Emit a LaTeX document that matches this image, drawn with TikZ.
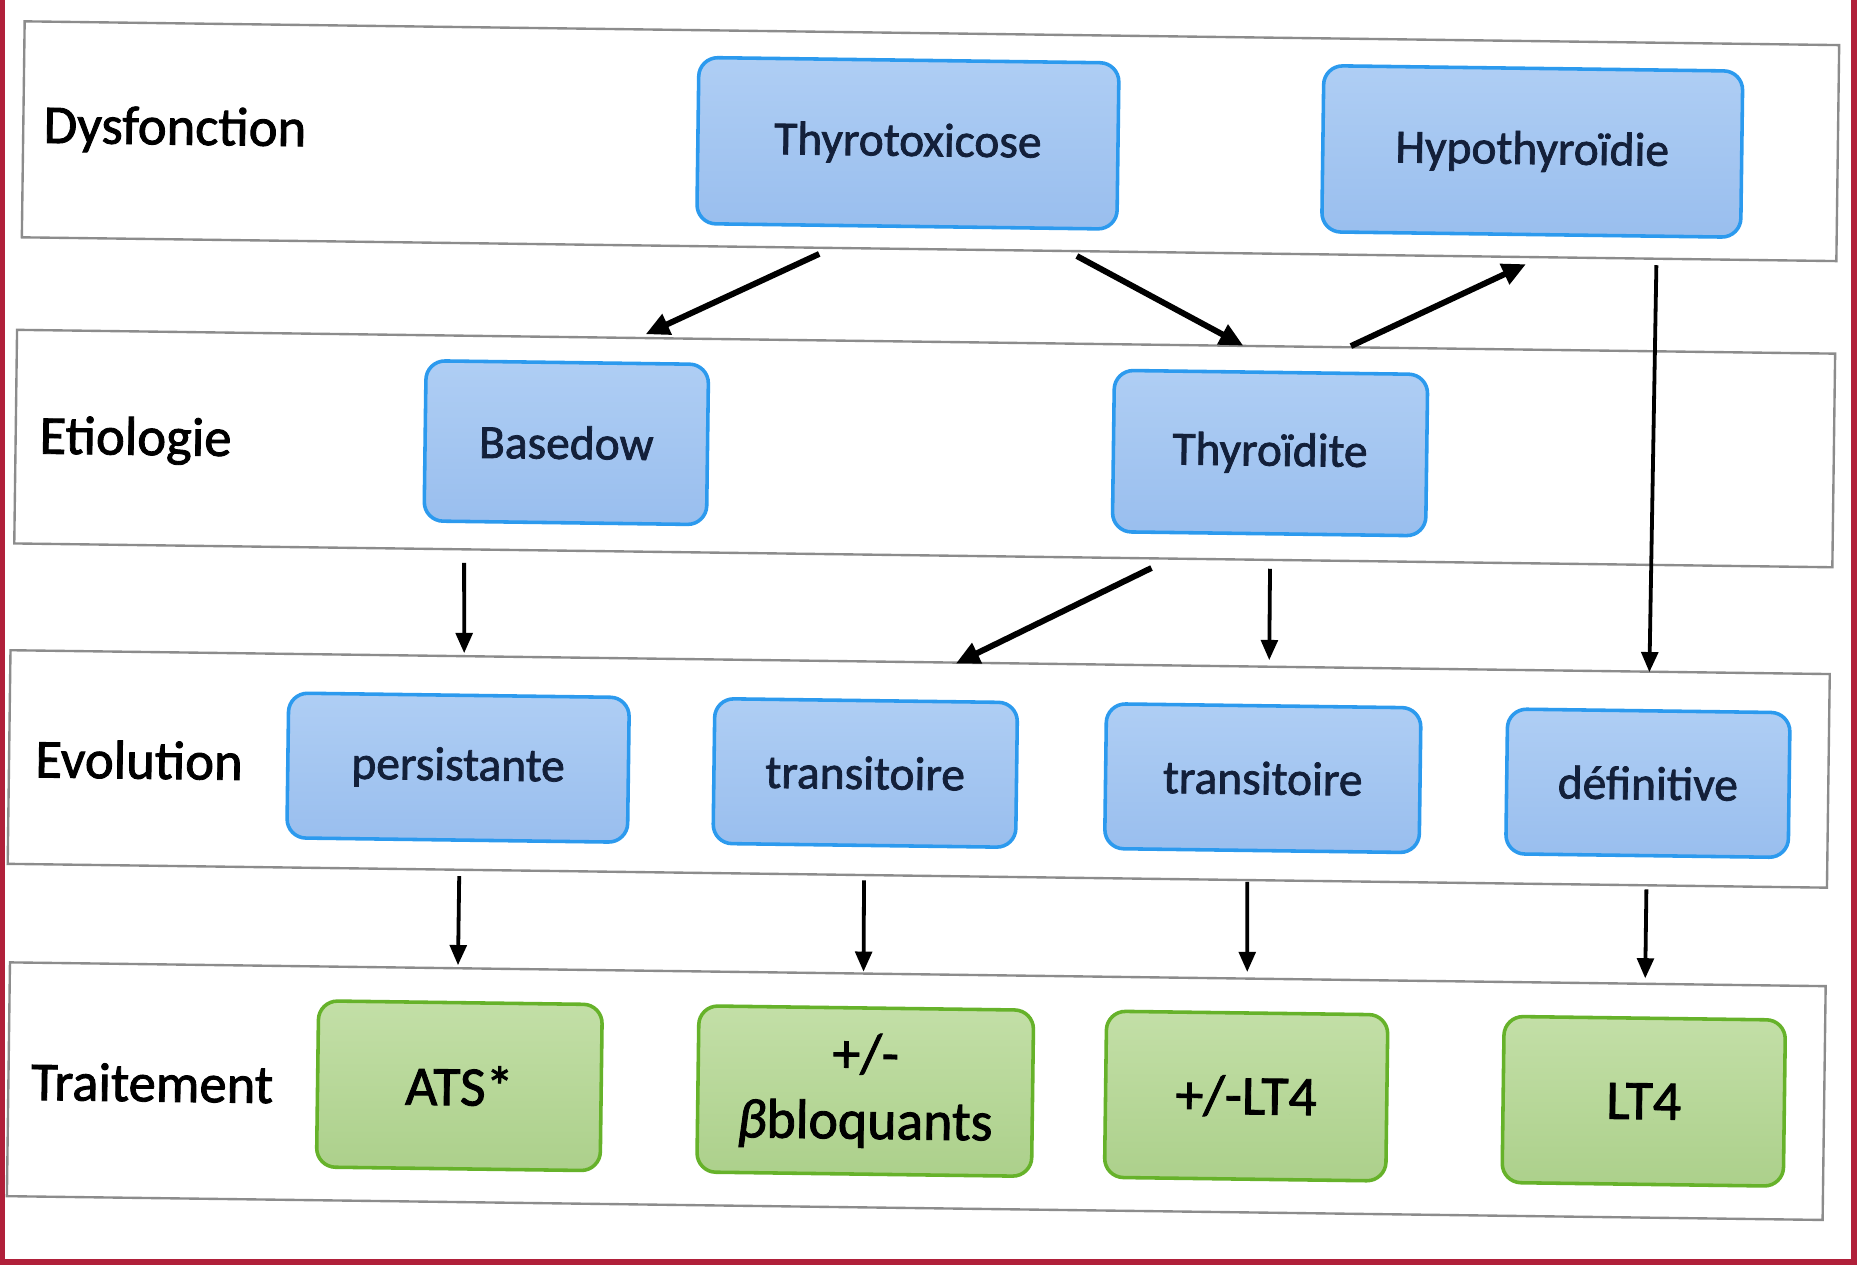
\documentclass[tikz,border=0pt]{standalone}
\usepackage{fontspec}
\setmainfont{Carlito}[FakeBold=1.6]
\newfontfamily\thickfont{Carlito}[FakeBold=1.6]
\usetikzlibrary{arrows.meta}
\definecolor{bandgray}{HTML}{8C8C8C}
\definecolor{blueedge}{HTML}{2C9AEE}
\definecolor{bluetop}{HTML}{AFCEF4}
\definecolor{bluebot}{HTML}{99BEEE}
\definecolor{greenedge}{HTML}{66B22A}
\definecolor{greentop}{HTML}{C3DFA7}
\definecolor{greenbot}{HTML}{ACD08B}
\definecolor{navytext}{HTML}{13203A}
\definecolor{framered}{HTML}{B0203A}
\newcommand{\nodefnt}{\thickfont\fontsize{40}{54}\selectfont}
\newcommand{\greenfnt}{\thickfont\fontsize{47}{56}\selectfont}
\newcommand{\lblfnt}{\thickfont\fontsize{46}{54}\selectfont}
\tikzset{
  band/.style={draw=bandgray, line width=2pt, fill=white},
  bluebox/.style={draw=blueedge, line width=3pt, top color=bluetop, bottom color=bluebot,
    rounded corners=16pt, text=navytext, font=\nodefnt, inner sep=0pt, align=center, transform shape},
  greenbox/.style={draw=greenedge, line width=3pt, top color=greentop, bottom color=greenbot,
    rounded corners=16pt, text=black, font=\greenfnt, inner sep=0pt, align=center, transform shape},
  lbl/.style={anchor=west, font=\lblfnt, inner sep=0pt, text=black, transform shape},
  arr/.style={draw=black, line width=5pt, -{Triangle[length=20pt,width=18pt]}},
  varr/.style={draw=black, line width=3.2pt, -{Triangle[length=17pt,width=14pt]}},
  redline/.style={draw=framered, line width=5pt}
}
\begin{document}
\begin{tikzpicture}[x=1pt,y=-1pt]
\useasboundingbox (0,0) rectangle (1568,1078);
\fill[white] (0,0) rectangle (1568,1078);
\begin{scope}[rotate around={-0.75:(784,539)}]
  % bands
  \draw[band] (14,28) rectangle (1543,210);
  \draw[band] (11,288) rectangle (1543,468);
  \draw[band] (9,558) rectangle (1542,738);
  \draw[band] (12,821) rectangle (1542,1018);
  % row labels
  \node[lbl] (l1) at (31,118) {Dysfonction};
  \node[lbl] (l2) at (31,380) {Etiologie};
  \node[lbl] (l3) at (31,649) {Evolution};
  \node[lbl] (l4) at (31,921) {Traitement};
  % row 1
  \node[bluebox, minimum width=354pt, minimum height=140pt] (thyro) at (759.5,121) {Thyrotoxicose};
  \node[bluebox, minimum width=353pt, minimum height=140pt] (hypo) at (1285.6,121) {Hypothyroïdie};
  % row 2
  \node[bluebox, minimum width=238pt, minimum height=135pt] (based) at (475,377) {Basedow};
  \node[bluebox, minimum width=264pt, minimum height=136pt] (thyd) at (1068,378) {Thyroïdite};
  % row 3
  \node[bluebox, minimum width=287pt, minimum height=122pt] (persist) at (387.4,652) {persistante};
  \node[bluebox, minimum width=255pt, minimum height=122pt] (trans1) at (730.5,652) {transitoire};
  \node[bluebox, minimum width=265pt, minimum height=122pt] (trans2) at (1065.5,652) {transitoire};
  \node[bluebox, minimum width=238pt, minimum height=122pt] (defin) at (1390,652) {définitive};
  % row 4
  \node[greenbox, minimum width=239pt, minimum height=140pt] (ats) at (392,920) {ATS*};
  \node[greenbox, minimum width=282pt, minimum height=140pt] (bbloq) at (734,920) {+/-\\\textit{β}bloquants};
  \node[greenbox, minimum width=237pt, minimum height=140pt] (lt4pm) at (1055,920) {+/-LT4};
  \node[greenbox, minimum width=237pt, minimum height=140pt] (lt4) at (1390,920) {LT4};
  % arrows
  \draw[arr, shorten <=52.6pt, shorten >=53.7pt] (thyro.250.9) -- (based.76.1);
  \draw[arr, shorten <=46.8pt, shorten >=44.7pt] (thyro.325) -- (thyd.77.2);
  \draw[arr, shorten <=49.4pt, shorten >=54pt] (thyd.72.3) -- (hypo.302);
  \draw[varr, shorten <=23pt, shorten >=31pt] (hypo.326.2) -- (defin.north);
  \draw[varr, shorten <=33.5pt, shorten >=34pt] (based.219) -- (persist.86.2);
  \draw[arr, shorten <=63.6pt, shorten >=68pt] (thyd.239.3) -- (trans1.77.2);
  \draw[varr, shorten <=28pt, shorten >=37pt] (thyd.271.3) -- (trans2.86.2);
  \draw[varr, shorten <=29pt, shorten >=30pt] (persist.272) -- (ats.92);
  \draw[varr, shorten <=28pt, shorten >=29pt] (trans1.south) -- (bbloq.92.5);
  \draw[varr, shorten <=25pt, shorten >=33pt] (trans2.259.8) -- (lt4pm.north);
  \draw[varr, shorten <=27pt, shorten >=32pt] (defin.south) -- (lt4.north);
\end{scope}
% red frame
\draw[redline] (2,0) -- (2,1063) -- (1562,1063) -- (1562,0);
\end{tikzpicture}
\end{document}
